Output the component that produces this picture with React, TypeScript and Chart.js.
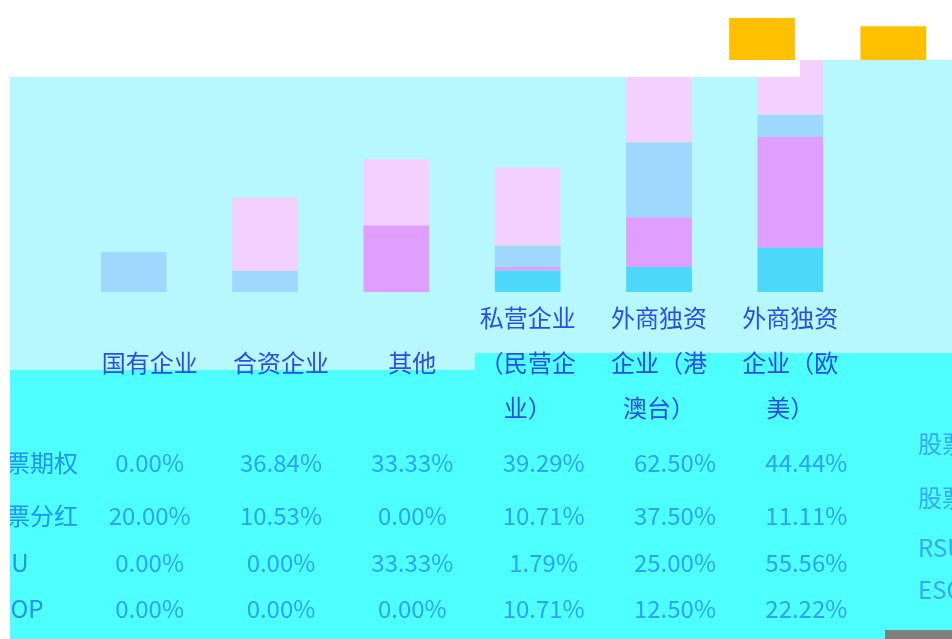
import React, { useEffect, useRef } from "react";
import { Chart, registerables } from "chart.js";

Chart.register(...registerables);

const categories = [
  "国有企业",
  "合资企业",
  "其他",
  "私营企业（民营企业）",
  "外商独资企业（港澳台）",
  "外商独资企业（欧美）",
];
const categoryLines = [
  ["国有企业"],
  ["合资企业"],
  ["其他"],
  ["私营企业", "（民营企", "业）"],
  ["外商独资", "企业（港", "澳台）"],
  ["外商独资", "企业（欧", "美）"],
];
const seriesNames = ["股票期权", "股票分红", "RSU", "ESOP"];
const stockOptions = [0.0, 36.84, 33.33, 39.29, 62.5, 44.44];
const stockDividends = [20.0, 10.53, 0.0, 10.71, 37.5, 11.11];
const rsu = [0.0, 0.0, 33.33, 1.79, 25.0, 55.56];
const esop = [0.0, 0.0, 0.0, 10.71, 12.5, 22.22];
const yMax = 140;

const seriesValues = [stockOptions, stockDividends, rsu, esop];
const seriesColors = ["#f4d0fe", "#9ed8fc", "#e09efe", "#4cd8fa"];

const FONT = '"Noto Sans CJK SC", "Noto Sans", sans-serif';

const W = 952;
const H = 639;

const glitchPlugin = {
  id: "glitch",
  beforeDraw(chart: any) {
    const ctx = chart.ctx;
    ctx.save();
    ctx.fillStyle = "#ffffff";
    ctx.fillRect(0, 0, W, H);
    // light plot band
    ctx.fillStyle = "#b6f8fe";
    ctx.fillRect(10, 60, 465, 310);
    ctx.fillRect(475, 60, W - 475, 293);
    // table band
    ctx.fillStyle = "#4dfffe";
    ctx.fillRect(10, 370, 465, H - 370);
    ctx.fillRect(475, 353, W - 475, H - 353);
    // grey strip
    ctx.fillStyle = "#808080";
    ctx.fillRect(885, 630, W - 885, H - 630);
    ctx.restore();
  },
  afterDatasetsDraw(chart: any) {
    const ctx = chart.ctx;
    ctx.save();
    ctx.fillStyle = "#ffffff";
    ctx.fillRect(0, 0, 800, 77);
    ctx.fillRect(800, 0, W - 800, 60);
    // shifted top strip of the tallest bars
    const topIndex = chart.data.datasets.length - 1;
    const meta = chart.getDatasetMeta(topIndex);
    ctx.fillStyle = "#ffc000";
    meta.data.forEach((bar: any) => {
      const p = bar.getProps(["x", "y", "width"], true);
      if (p.y < 60) {
        ctx.fillRect(p.x - p.width / 2 + 103, p.y, p.width, 60 - p.y);
      }
    });
    ctx.restore();
  },
  afterDraw(chart: any) {
    const ctx = chart.ctx;
    const xs = chart.scales.x;
    ctx.save();
    ctx.beginPath();
    ctx.rect(10, 0, W - 10, H);
    ctx.clip();
    ctx.textBaseline = "middle";
    ctx.font = `24px ${FONT}`;
    // category labels
    ctx.textAlign = "center";
    ctx.fillStyle = "#2c4ce8";
    categoryLines.forEach((lines, i) => {
      let cx = xs.getPixelForValue(i);
      if (cx < 470) cx += 16;
      const n = lines.length;
      lines.forEach((line, j) => {
        const y = 363 + (j - (n - 1) / 2) * 45;
        ctx.fillText(line, cx, y);
      });
    });
    // data table
    const rowYs = [463, 516, 563, 609];
    ctx.fillStyle = "#2aa4f4";
    seriesValues.forEach((vals, r) => {
      vals.forEach((v, i) => {
        const cx = xs.getPixelForValue(i) + 16;
        ctx.fillText(v.toFixed(2) + "%", cx, rowYs[r]);
      });
    });
    // row headers
    ctx.textAlign = "left";
    ctx.fillStyle = "#2094f2";
    seriesNames.forEach((name, r) => {
      ctx.fillText(name, -18, rowYs[r]);
    });
    // legend labels at right
    const legendYs = [444, 498, 548, 590];
    ctx.fillStyle = "#38a8f4";
    seriesNames.forEach((name, r) => {
      ctx.fillText(name, 918, legendYs[r]);
    });
    ctx.restore();
  },
};

export default function App() {
  const ref = useRef<HTMLCanvasElement | null>(null);
  useEffect(() => {
    if (!ref.current) return;
    const order = [3, 2, 1, 0];
    const chart = new Chart(ref.current, {
      type: "bar",
      data: {
        labels: categories,
        datasets: order.map((k) => ({
          label: seriesNames[k],
          data: seriesValues[k],
          backgroundColor: seriesColors[k],
          borderWidth: 0,
          categoryPercentage: 1,
          barPercentage: 0.5,
        })),
      },
      options: {
        responsive: false,
        animation: false,
        devicePixelRatio: 1,
        layout: { padding: { left: 68, right: 96, top: 13, bottom: 347 } },
        plugins: {
          legend: { display: false },
          tooltip: { enabled: false },
          title: { display: false },
        },
        scales: {
          x: { stacked: true, display: false, grid: { display: false } },
          y: { stacked: true, display: false, min: 0, max: yMax, grid: { display: false } },
        },
      },
      plugins: [glitchPlugin],
    });
    return () => chart.destroy();
  }, []);
  return (
    <div style={{ position: "fixed", left: 0, top: 0, width: W, height: H, overflow: "hidden" }}>
      <canvas ref={ref} width={W} height={H} style={{ display: "block" }} />
    </div>
  );
}
